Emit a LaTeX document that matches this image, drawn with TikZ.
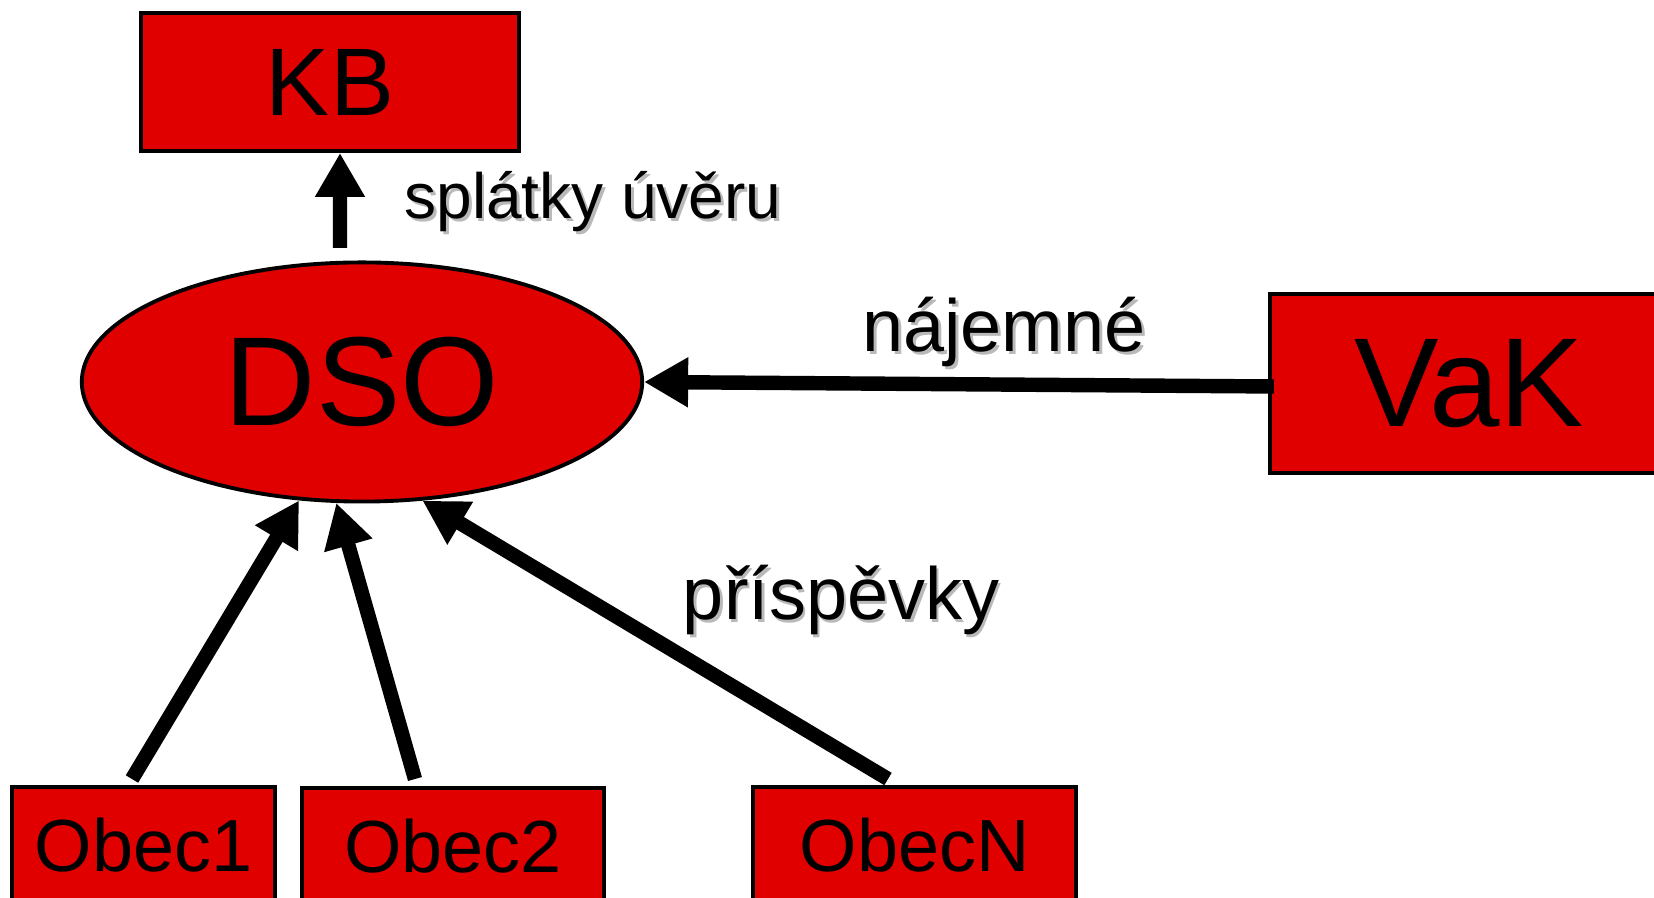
\documentclass[tikz,border=0pt]{standalone}
\usepackage{fontspec}
\setmainfont{Liberation Sans}
\usetikzlibrary{arrows.meta,shapes.geometric}
\definecolor{signalred}{RGB}{224, 0, 0}
\definecolor{shadowgray}{RGB}{185, 185, 185}
\newcommand{\shadowed}[1]{\makebox[0pt][l]{\kern0.8pt\raisebox{-0.8pt}{\textcolor{shadowgray}{#1}}}#1}

\begin{document}
\begin{tikzpicture}[x=0.01cm, y=-0.01cm,
        box/.style={draw=black, line width=1.1pt, fill=signalred, inner sep=0pt},
        flow/.style={line width=4.1pt, -{Triangle[width=0.47cm, length=0.44cm]}},
        lbl/.style={anchor=base, inner sep=0pt}]
            \useasboundingbox (0,0) rectangle (1654,898);
            \clip             (0,0) rectangle (1654,898);
            % boxes
            \node[box, minimum width=3.78cm, minimum height=1.38cm, font=\fontsize{27.3}{30}\selectfont]  (KB)     at ( 330.0,  82.0) {KB};
            \node[box, ellipse, minimum width=5.60cm, minimum height=2.39cm, font=\fontsize{36}{40}\selectfont] (DSO) at ( 362.0, 382.0) {DSO};
            \node[box, minimum width=3.98cm, minimum height=1.79cm, font=\fontsize{36}{40}\selectfont]    (VaK)    at (1469.0, 383.5) {VaK};
            \node[box, minimum width=2.63cm, minimum height=1.16cm, font=\fontsize{21}{24}\selectfont]    (Obec1)  at ( 143.5, 845.0) {Obec1};
            \node[box, minimum width=3.02cm, minimum height=1.16cm, font=\fontsize{21}{24}\selectfont]    (Obec2)  at ( 453.0, 846.0) {Obec2};
            \node[box, minimum width=3.23cm, minimum height=1.16cm, font=\fontsize{21}{24}\selectfont]    (ObecN)  at ( 914.5, 845.0) {ObecN};
            % labels
            \node[lbl, font=\fontsize{18.2}{21}\selectfont] (splatky)   at ( 593, 219) {\shadowed{splátky úvěru}};
            \node[lbl, font=\fontsize{21}{24}\selectfont]   (najemne)   at (1004, 352) {\shadowed{nájemné}};
            \node[lbl, font=\fontsize{21}{24}\selectfont]   (prispevky) at ( 841, 620) {\shadowed{příspěvky}};
            % flows
            \draw[flow] ([xshift=-0.22cm, yshift=0.125cm]DSO.north) -- ([xshift=0.10cm]KB.south);
            \draw[flow] ([xshift=0.06cm, yshift=-0.03cm]VaK.west)   -- (DSO.east);
            \draw[flow] ([xshift=-0.115cm, yshift=0.06cm]Obec1.north) -- (DSO.242);
            \draw[flow] ([xshift=-0.380cm, yshift=0.07cm]Obec2.north) -- (DSO.258);
            \draw[flow] ([xshift=-0.265cm, yshift=0.06cm]ObecN.north) -- (DSO.297);
\end{tikzpicture}
\end{document}
